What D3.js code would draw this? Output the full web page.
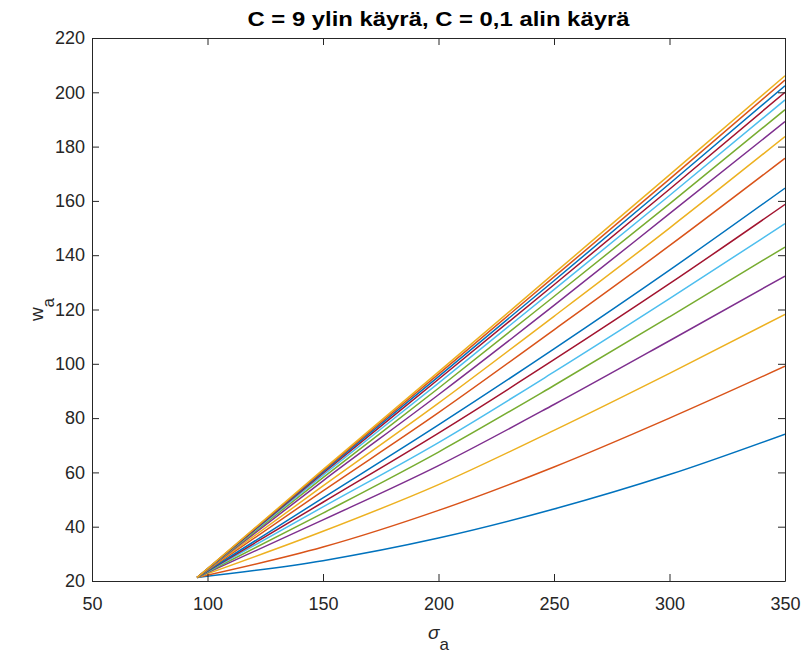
<!DOCTYPE html>
<html>
<head>
<meta charset="utf-8">
<script src="https://cdn.jsdelivr.net/npm/d3@7"></script>
<style>
  html, body { margin: 0; padding: 0; background: #fff; }
  svg { display: block; }
</style>
</head>
<body>
<svg id="chart" width="804" height="659"></svg>
<script>
// ---- data ----
const titleText = "C = 9 ylin käyrä, C = 0,1 alin käyrä";
const sigmaSamples = [95.5, 150, 200, 250, 300, 350];
// w_a values at the sigma samples, bottom curve (C = 0.1) first, top curve (C = 9) last
const wSeries = [
  [21.3, 27.5, 35.8, 46.5, 59.2, 74.1],
  [21.3, 32.5, 46.0, 62.0, 80.0, 99.1],
  [21.3, 38.3, 55.5, 75.5, 96.5, 118.2],
  [21.3, 42.5, 62.5, 85.0, 108.5, 132.3],
  [21.3, 45.0, 67.5, 92.0, 117.3, 143.0],
  [21.3, 47.3, 71.0, 97.0, 124.0, 151.6],
  [21.3, 49.0, 74.5, 101.5, 129.5, 158.7],
  [21.3, 50.6, 77.5, 105.5, 134.5, 164.7],
  [21.3, 53.2, 82.0, 112.5, 143.5, 175.7],
  [21.3, 55.0, 85.5, 117.5, 150.0, 183.7],
  [21.3, 56.9, 88.6, 121.5, 155.3, 189.2],
  [21.3, 58.1, 91.0, 124.8, 158.9, 193.6],
  [21.3, 59.0, 92.9, 127.3, 162.0, 197.2],
  [21.3, 59.7, 94.3, 129.1, 164.3, 200.0],
  [21.3, 60.2, 95.3, 130.6, 166.3, 202.4],
  [21.3, 60.6, 96.2, 132.0, 168.0, 204.5],
  [21.3, 61.0, 97.0, 133.3, 169.6, 206.1]
];
const xTicks = [50, 100, 150, 200, 250, 300, 350];
const yTicks = [20, 40, 60, 80, 100, 120, 140, 160, 180, 200, 220];
const lineColors = ["#0072BD", "#D95319", "#EDB120", "#7E2F8E", "#77AC30", "#4DBEEE", "#A2142F"];

// ---- layout ----
const svg = d3.select("#chart");
const mLeft = 92, mRight = 785, mTop = 38, mBottom = 581;
const axisColor = "#262626";
const font = "'Liberation Sans', Arial, Helvetica, sans-serif";

const x = d3.scaleLinear().domain([50, 350]).range([mLeft, mRight]);
const y = d3.scaleLinear().domain([20, 220]).range([mBottom, mTop]);

svg.append("rect").attr("x", 0).attr("y", 0).attr("width", 804).attr("height", 659).attr("fill", "#fff");

svg.append("defs").append("clipPath").attr("id", "clip")
  .append("rect").attr("x", mLeft).attr("y", mTop).attr("width", mRight - mLeft).attr("height", mBottom - mTop);

const line = d3.line()
  .x((d, i) => x(sigmaSamples[i]))
  .y(d => y(d))
  .curve(d3.curveMonotoneX);

svg.append("g").attr("clip-path", "url(#clip)")
  .selectAll("path").data(wSeries).enter().append("path")
  .attr("d", d => line(d))
  .attr("fill", "none")
  .attr("stroke", (d, i) => lineColors[i % lineColors.length])
  .attr("stroke-width", 1.5)
  .attr("stroke-linejoin", "round");

const tickLen = 7;
const xAxisB = d3.axisBottom(x).tickValues(xTicks).tickSizeInner(-tickLen).tickSizeOuter(0).tickPadding(16);
const xAxisT = d3.axisTop(x).tickValues(xTicks).tickSizeInner(-tickLen).tickSizeOuter(0).tickFormat("");
const yAxisL = d3.axisLeft(y).tickValues(yTicks).tickSizeInner(-tickLen).tickSizeOuter(0).tickPadding(7);
const yAxisR = d3.axisRight(y).tickValues(yTicks).tickSizeInner(-tickLen).tickSizeOuter(0).tickFormat("");

function styleAxis(g) {
  g.select(".domain").attr("stroke", axisColor).attr("stroke-width", 1);
  g.selectAll(".tick line").attr("stroke", axisColor).attr("stroke-width", 1);
  g.selectAll(".tick text").attr("fill", axisColor).style("font-family", font).style("font-size", "18px");
}

svg.append("g").attr("transform", `translate(0,${mBottom})`).call(xAxisB).call(styleAxis);
svg.append("g").attr("transform", `translate(0,${mTop})`).call(xAxisT).call(styleAxis);
svg.append("g").attr("transform", `translate(${mLeft},0)`).call(yAxisL).call(styleAxis);
svg.append("g").attr("transform", `translate(${mRight},0)`).call(yAxisR).call(styleAxis);

svg.append("text")
  .attr("x", (mLeft + mRight) / 2).attr("y", 26)
  .attr("text-anchor", "middle")
  .attr("textLength", 382).attr("lengthAdjust", "spacingAndGlyphs")
  .style("font-family", font).style("font-weight", "bold").style("font-size", "21px")
  .attr("fill", "#000")
  .text(titleText);

const xl = svg.append("text")
  .attr("x", (mLeft + mRight) / 2).attr("y", 639)
  .attr("text-anchor", "middle")
  .style("font-family", font).style("font-size", "19px").attr("fill", axisColor);
xl.append("tspan").style("font-style", "italic").text("σ");
xl.append("tspan").attr("dy", 11).style("font-size", "17px").text("a");

const yl = svg.append("text")
  .attr("transform", `translate(43,${(mTop + mBottom) / 2}) rotate(-90)`)
  .attr("text-anchor", "middle")
  .style("font-family", font).style("font-size", "19px").attr("fill", axisColor);
yl.append("tspan").text("w");
yl.append("tspan").attr("dy", 11).style("font-size", "17px").text("a");
</script>
</body>
</html>
